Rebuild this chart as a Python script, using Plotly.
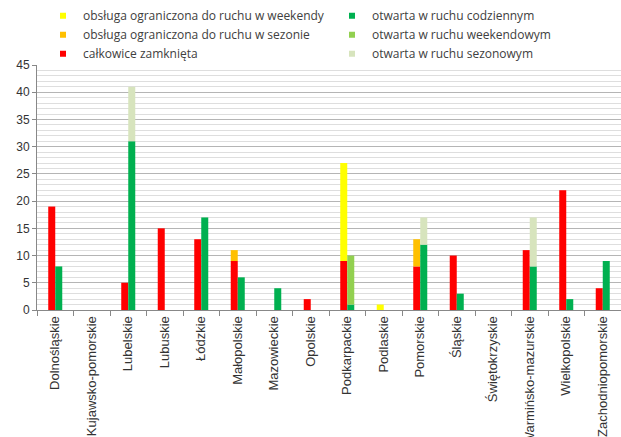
import plotly.graph_objects as go

categories = ["Dolnośląskie", "Kujawsko-pomorskie", "Lubelskie", "Lubuskie", "Łódzkie",
              "Małopolskie", "Mazowieckie", "Opolskie", "Podkarpackie", "Podlaskie",
              "Pomorskie", "Śląskie", "Świętokrzyskie", "Warmińsko-mazurskie",
              "Wielkopolskie", "Zachodniopomorskie"]

# closed-side stack
zamknieta = [19, 0, 5, 15, 13, 9, 0, 2, 9, 0, 8, 10, 0, 11, 22, 4]
ogr_sezon = [0, 0, 0, 0, 0, 2, 0, 0, 0, 0, 5, 0, 0, 0, 0, 0]
ogr_weekend = [0, 0, 0, 0, 0, 0, 0, 0, 18, 1, 0, 0, 0, 0, 0, 0]
# open-side stack
codzienny = [8, 0, 31, 0, 17, 6, 4, 0, 1, 0, 12, 3, 0, 8, 2, 9]
weekendowy = [0, 0, 0, 0, 0, 0, 0, 0, 9, 0, 0, 0, 0, 0, 0, 0]
sezonowy = [0, 0, 10, 0, 0, 0, 0, 0, 0, 0, 5, 0, 0, 9, 0, 0]

names = {
    "weekend": "obsługa ograniczona do ruchu w weekendy",
    "sezon": "obsługa ograniczona do ruchu w sezonie",
    "zamk": "całkowice zamknięta",
    "codz": "otwarta w ruchu codziennym",
    "week": "otwarta w ruchu weekendowym",
    "sezo": "otwarta w ruchu sezonowym",
}
colors = {
    "weekend": "#ffff00", "sezon": "#ffc000", "zamk": "#ff0000",
    "codz": "#00b050", "week": "#92d050", "sezo": "#d7e4bd",
}

fig = go.Figure()

def add_stack(group, series):
    base = [0] * len(categories)
    for key, vals in series:
        fig.add_trace(go.Bar(x=categories, y=vals, base=list(base), offsetgroup=group,
                             marker=dict(color=colors[key], line=dict(width=0)),
                             showlegend=False, hoverinfo="x+y", name=names[key]))
        base = [b + v for b, v in zip(base, vals)]

add_stack("closed", [("zamk", zamknieta), ("sezon", ogr_sezon), ("weekend", ogr_weekend)])
add_stack("open", [("codz", codzienny), ("week", weekendowy), ("sezo", sezonowy)])

# legend entries (two columns)
for key in ["weekend", "codz", "sezon", "week", "zamk", "sezo"]:
    fig.add_trace(go.Scatter(x=[None], y=[None], mode="markers", name=names[key],
                             marker=dict(symbol="square", size=6, color=colors[key])))

fig.update_layout(
    width=621, height=437,
    margin=dict(l=37, r=0, t=65, b=127),
    paper_bgcolor="white", plot_bgcolor="white",
    barmode="group", bargap=0.616, bargroupgap=0,
    font=dict(family="Liberation Sans, Arial, sans-serif", color="#404040", size=12),
    legend=dict(orientation="h", x=0.042, xanchor="left", y=1.26, yanchor="top",
                entrywidth=244, entrywidthmode="pixels",
                font=dict(family="Open Sans, sans-serif", size=12, color="#404040"),
                itemwidth=30, tracegroupgap=0, bgcolor="rgba(0,0,0,0)"),
)
fig.update_xaxes(type="category", tickangle=-90, tickson="boundaries", ticks="outside",
                 ticklen=5, tickcolor="#888888", showline=True, linecolor="#888888",
                 linewidth=1, showgrid=False, automargin=False,
                 tickfont=dict(family="Liberation Sans, Arial, sans-serif", size=13, color="#333333"))
fig.update_yaxes(range=[0, 45], dtick=5, showgrid=True, gridcolor="#b5b5b5", gridwidth=1,
                 minor=dict(dtick=1, showgrid=True, gridcolor="#dedede", gridwidth=1),
                 showline=True, linecolor="#888888", ticks="outside", ticklen=4,
                 tickcolor="#888888", zeroline=False, automargin=False,
                 tickfont=dict(family="Liberation Sans, Arial, sans-serif", size=12, color="#333333"))

fig.write_html("out.html")
